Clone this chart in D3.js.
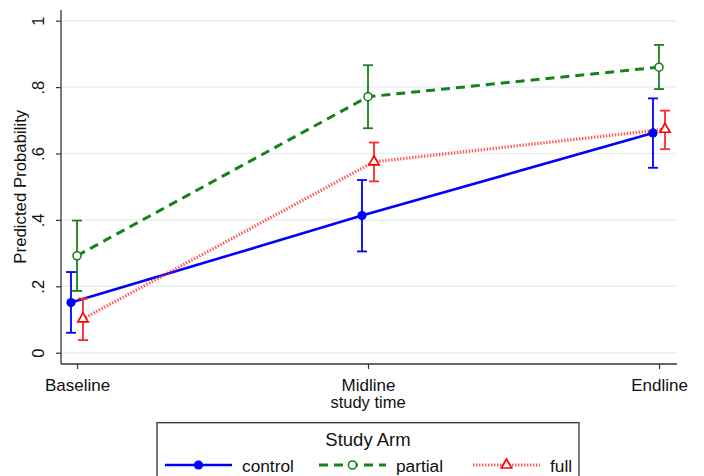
<!DOCTYPE html>
<html>
<head>
<meta charset="utf-8">
<script src="https://cdn.jsdelivr.net/npm/d3@7"></script>
<style>
  body { margin: 0; background: #fff; }
  text { font-family: "Liberation Sans", Arial, sans-serif; fill: #111; }
</style>
</head>
<body>
<script>
// data
const times = ["Baseline", "Midline", "Endline"];
const arms = ["control", "partial", "full"];
const control = [0.151, 0.413, 0.662];
const controlLo = [0.060, 0.305, 0.557];
const controlHi = [0.243, 0.520, 0.766];
const partial = [0.292, 0.771, 0.860];
const partialLo = [0.186, 0.676, 0.794];
const partialHi = [0.398, 0.866, 0.927];
const full = [0.102, 0.575, 0.673];
const fullLo = [0.038, 0.516, 0.613];
const fullHi = [0.163, 0.633, 0.729];
const yTicks = [0, 0.2, 0.4, 0.6, 0.8, 1];
const yTickLabels = ["0", ".2", ".4", ".6", ".8", "1"];

const width = 704, height = 476;
const plot = { left: 61, right: 677, top: 10, bottom: 364 };

const series = [
  { key: "control", est: control, lo: controlLo, hi: controlHi, color: "#0000ff", dash: null, lw: 2.6 },
  { key: "partial", est: partial, lo: partialLo, hi: partialHi, color: "#16831a", dash: "9,6", lw: 3 },
  { key: "full", est: full, lo: fullLo, hi: fullHi, color: "#ff2a2a", dash: "1.4,1.6", lw: 3.2 }
];

const x = d3.scalePoint().domain(times).range([77, 659]);
const off = d3.scalePoint().domain(arms).range([-6, 6]);
const y = d3.scaleLinear().domain([0, 1]).range([352.7, 20.7]);

const svg = d3.select("body").append("svg")
  .attr("width", width)
  .attr("height", height);

// gridlines
svg.append("g")
  .selectAll("line")
  .data(yTicks)
  .join("line")
  .attr("x1", plot.left).attr("x2", plot.right)
  .attr("y1", d => y(d)).attr("y2", d => y(d))
  .attr("stroke", "#e6eff1")
  .attr("stroke-width", 1.5);

// y axis (Stata style rotated labels)
const yAxis = svg.append("g")
  .attr("transform", `translate(${plot.left},0)`)
  .call(d3.axisLeft(y).tickValues(yTicks).tickSize(5).tickFormat((d, i) => yTickLabels[i]));
yAxis.select(".domain").attr("d", `M0,${plot.top}V${plot.bottom}`).attr("stroke", "#333").attr("stroke-width", 1.3);
yAxis.selectAll(".tick line").attr("stroke", "#333").attr("stroke-width", 1.2);
yAxis.selectAll(".tick text")
  .attr("x", null).attr("dy", null)
  .attr("text-anchor", "middle")
  .attr("transform", "translate(-17,0) rotate(-90)")
  .style("font-size", "16.5px")
  .style("fill", "#111");

// x axis
const xAxis = svg.append("g")
  .attr("transform", `translate(0,${plot.bottom})`)
  .call(d3.axisBottom(x).tickSize(5).tickPadding(0));
xAxis.select(".domain").attr("d", `M${plot.left},0H${plot.right}`).attr("stroke", "#333").attr("stroke-width", 1.3);
xAxis.selectAll(".tick line").attr("stroke", "#333").attr("stroke-width", 1.2);
xAxis.selectAll(".tick text")
  .attr("y", 26.5).attr("dy", null)
  .style("font-size", "17px")
  .style("fill", "#111");

svg.append("text")
  .attr("x", x("Midline"))
  .attr("y", 408)
  .attr("text-anchor", "middle")
  .style("font-size", "16.5px")
  .text("study time");

svg.append("text")
  .attr("transform", `translate(25.5,${(y(0) + y(1)) / 2}) rotate(-90)`)
  .attr("text-anchor", "middle")
  .style("font-size", "16.8px")
  .text("Predicted Probability");

const px = (s, i) => x(times[i]) + off(s.key);

// connecting lines
const line = d3.line()
  .x(d => d.x)
  .y(d => y(d.v));

svg.append("g")
  .selectAll("path")
  .data(series)
  .join("path")
  .attr("d", s => line(s.est.map((v, i) => ({ x: px(s, i), v }))))
  .attr("fill", "none")
  .attr("stroke", s => s.color)
  .attr("stroke-width", s => s.lw)
  .attr("stroke-dasharray", s => s.dash)
  .attr("opacity", s => s.key === "full" ? 0.8 : 1);

// error bars
const bars = svg.append("g")
  .selectAll("g")
  .data(series)
  .join("g")
  .attr("stroke", s => s.color)
  .attr("stroke-width", 1.8)
  .attr("fill", "none");

bars.each(function (s) {
  const g = d3.select(this);
  s.est.forEach((v, i) => {
    const cx = px(s, i);
    g.append("line").attr("x1", cx).attr("x2", cx).attr("y1", y(s.lo[i])).attr("y2", y(s.hi[i]));
    g.append("line").attr("x1", cx - 5).attr("x2", cx + 5).attr("y1", y(s.lo[i])).attr("y2", y(s.lo[i]));
    g.append("line").attr("x1", cx - 5).attr("x2", cx + 5).attr("y1", y(s.hi[i])).attr("y2", y(s.hi[i]));
  });
});

// markers
function drawMarker(g, key, color) {
  if (key === "control") {
    g.append("circle").attr("r", 4.6).attr("fill", color);
  } else if (key === "partial") {
    g.append("circle").attr("r", 4).attr("fill", "#fff").attr("stroke", color).attr("stroke-width", 1.6);
  } else {
    g.append("path")
      .attr("d", d3.symbol().type(d3.symbolTriangle).size(46)())
      .attr("fill", "#fff").attr("stroke", "#ff0000").attr("stroke-width", 1.7);
  }
}

series.forEach(s => {
  s.est.forEach((v, i) => {
    const g = svg.append("g").attr("transform", `translate(${px(s, i)},${y(v)})`);
    drawMarker(g, s.key, s.color);
  });
});

// legend
const legend = svg.append("g");
legend.append("rect")
  .attr("x", 157).attr("y", 422.7)
  .attr("width", 422).attr("height", 80)
  .attr("fill", "#fff")
  .attr("stroke", "#333")
  .attr("stroke-width", 1.3);

legend.append("text")
  .attr("x", 368).attr("y", 446)
  .attr("text-anchor", "middle")
  .style("font-size", "18.5px")
  .text("Study Arm");

const legendX = d3.scalePoint().domain(arms).range([165, 473]);
const item = legend.selectAll("g.item")
  .data(series)
  .join("g")
  .attr("class", "item")
  .attr("transform", s => `translate(${legendX(s.key)},465)`);

item.append("line")
  .attr("x1", 0).attr("x2", 67)
  .attr("stroke", s => s.color)
  .attr("stroke-width", s => s.lw)
  .attr("stroke-dasharray", s => s.dash)
  .attr("opacity", s => s.key === "full" ? 0.8 : 1);

item.each(function (s) {
  const g = d3.select(this).append("g").attr("transform", "translate(33.5,0)");
  drawMarker(g, s.key, s.color);
});

item.append("text")
  .attr("x", 77).attr("y", 6.5)
  .style("font-size", "17.3px")
  .text(s => s.key);
</script>
</body>
</html>
